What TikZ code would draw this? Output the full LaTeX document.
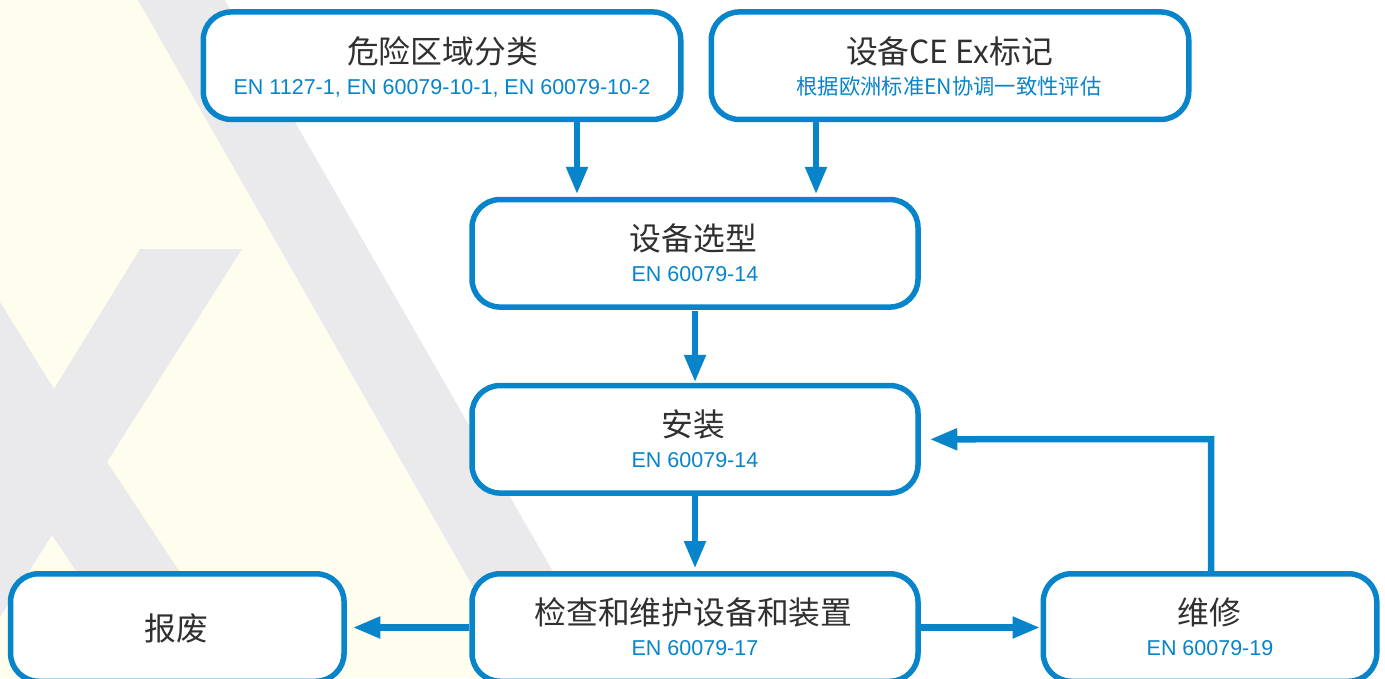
\documentclass[tikz,border=0pt]{standalone}
\usepackage{fontspec}
\usetikzlibrary{arrows.meta}
\setmainfont{Liberation Sans}
\newfontfamily\cjk{Noto Sans CJK SC}
\definecolor{flowblue}{HTML}{0784CA}
\definecolor{bgyellow}{HTML}{FFFEEE}
\definecolor{bggray}{HTML}{EAEAED}
\definecolor{bgline}{HTML}{EFEFF1}
\definecolor{inkdark}{HTML}{303030}
\tikzset{
  x=1pt,y=-1pt,
  flowbox/.style={draw=flowblue,fill=white,line width=5.5pt,rounded corners=28pt,inner sep=0pt},
  maintext/.style={anchor=base,text=inkdark,inner sep=0pt,font=\cjk\fontsize{31.8}{34}\selectfont},
  subtext/.style={anchor=base,text=flowblue,inner sep=0pt,font=\fontsize{21.5}{24}\selectfont},
  subcjk/.style={anchor=base,text=flowblue,inner sep=0pt,font=\cjk\fontsize{21.3}{24}\selectfont},
  flowarrow/.style={draw=flowblue,line width=6.5pt,-{Triangle[width=20.5pt,length=27.5pt]},flowblue},
}
\begin{document}
\begin{tikzpicture}
\useasboundingbox (0,0) rectangle (1385,678);
\clip (0,0) rectangle (1385,678);
% background
\fill[white] (0,0) rectangle (1385,678);
\fill[bgyellow] (0,0) -- (138,0) -- (525,678) -- (0,678) -- cycle;
\fill[bggray] (138,0) -- (225,0) -- (614,678) -- (525,678) -- cycle;
\draw[bgline,line width=0.6pt] (205,0) -- (594,678);
\fill[bggray] (140,249) -- (242,249) -- (107,462) -- (250,678) -- (147,678) -- (52,535) -- (0,617) -- (0,302) -- (54,389) -- cycle;
% boxes
\node[flowbox,minimum width=477.5pt,minimum height=107.5pt] (hazard) at (442,65.7) {};
\node[flowbox,minimum width=477.5pt,minimum height=107.5pt] (mark) at (950,65.7) {};
\node[flowbox,minimum width=446pt,minimum height=107.5pt] (select) at (695,253.3) {};
\node[flowbox,minimum width=446pt,minimum height=107.5pt] (install) at (695,439.3) {};
\node[flowbox,minimum width=446pt,minimum height=107.5pt] (inspect) at (695,627.5) {};
\node[flowbox,minimum width=333.5pt,minimum height=107.5pt] (scrap) at (177.3,627.5) {};
\node[flowbox,minimum width=333.5pt,minimum height=107.5pt] (repair) at (1210,627.5) {};
% connector helpers
\coordinate (ca) at (577,0);
\coordinate (cb) at (816,0);
\coordinate (cc) at (1211,0);
\coordinate (bend) at (1211,439);
% connectors
\draw[flowarrow,shorten >=2.5pt] (hazard.south -| ca) -- (select.north -| ca);
\draw[flowarrow,shorten >=2.5pt] (mark.south -| cb) -- (select.north -| cb);
\draw[flowarrow,shorten >=0.5pt,shorten <=1pt] (select.south) -- (install.north);
\draw[flowarrow,shorten >=2.5pt] (install.south) -- (inspect.north);
\draw[flowarrow,shorten >=6pt] (inspect.west) -- (scrap.east);
\draw[flowarrow,shorten >=0.5pt] (inspect.east) -- (repair.west);
\draw[flowarrow,shorten >=9pt] (repair.north -| cc) -- (bend) -- (install.east);
% labels
\node[maintext] (t1) at (442.5,63) {危险区域分类};
\node[subtext] (s1) at (442,94) {EN 1127-1, EN 60079-10-1, EN 60079-10-2};
\node[maintext] (t2) at (949.5,63) {设备CE Ex标记};
\node[subcjk] (s2) at (949,94) {根据欧洲标准EN协调一致性评估};
\node[maintext] (t3) at (693.5,250) {设备选型};
\node[subtext] (s3) at (695,281) {EN 60079-14};
\node[maintext] (t4) at (693,436) {安装};
\node[subtext] (s4) at (695,467) {EN 60079-14};
\node[maintext] (t5) at (693.5,624) {检查和维护设备和装置};
\node[subtext] (s5) at (695,655) {EN 60079-17};
\node[maintext] (t6) at (176.5,640) {报废};
\node[maintext] (t7) at (1209.5,624) {维修};
\node[subtext] (s7) at (1210,655) {EN 60079-19};
\end{tikzpicture}
\end{document}
